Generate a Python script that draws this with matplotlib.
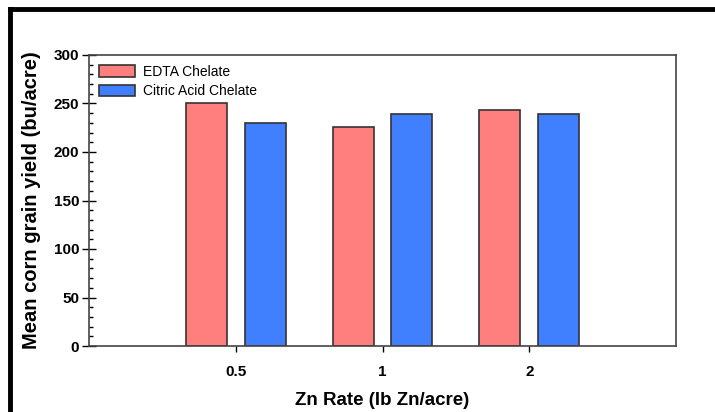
import matplotlib.pyplot as plt
import numpy as np
from matplotlib.lines import Line2D
from matplotlib.ticker import MultipleLocator

plt.rcParams['font.family'] = ['Liberation Sans', 'DejaVu Sans']

rates = ['0.5', '1', '2']
edta = [250, 226, 243]
citric = [230, 239, 239]

fig = plt.figure(figsize=(7.15, 4.12), dpi=100)
ax = fig.add_axes([89/715, 1-346/412, (676-89)/715, (346-55)/412])

pos = np.arange(1, len(rates)+1)
w = 0.28
ax.bar(pos-0.2, edta, w, color='#ff7f7f', edgecolor='#333333', linewidth=1.2, label='EDTA Chelate')
ax.bar(pos+0.2, citric, w, color='#4080ff', edgecolor='#333333', linewidth=1.2, label='Citric Acid Chelate')

ax.set_xlim(0, 4)
ax.set_ylim(0, 300)
ax.set_xticks(pos)
ax.set_xticklabels(rates)
ax.yaxis.set_major_locator(MultipleLocator(50))
ax.yaxis.set_minor_locator(MultipleLocator(10))
ax.tick_params(axis='y', which='major', direction='inout', length=10, width=1, labelsize=11, pad=2)
ax.tick_params(axis='y', which='minor', direction='in', length=3, width=1)
ax.tick_params(axis='x', which='major', direction='out', length=4, width=1, labelsize=11, pad=10)
for lab in ax.get_xticklabels() + ax.get_yticklabels():
    lab.set_fontweight('bold')
for s in ax.spines.values():
    s.set_color('#444444')
    s.set_linewidth(1.2)

ax.set_xlabel('Zn Rate (lb Zn/acre)', fontsize=13.5, fontweight='bold', labelpad=9)
ax.set_ylabel('Mean corn grain yield (bu/acre)', fontsize=14.5, fontweight='bold', labelpad=9)

leg = ax.legend(loc='upper left', frameon=False, fontsize=10, handlelength=2.6, handleheight=0.9,
                borderaxespad=0.3, labelspacing=0.4, handletextpad=0.6)

# black frame on top and left
fig.add_artist(Line2D([10/715, 1], [1-9/412, 1-9/412], color='black', linewidth=3.5))
fig.add_artist(Line2D([10/715, 10/715], [0, 1-9/412], color='black', linewidth=3.5))

fig.savefig('out.png', dpi=100)
